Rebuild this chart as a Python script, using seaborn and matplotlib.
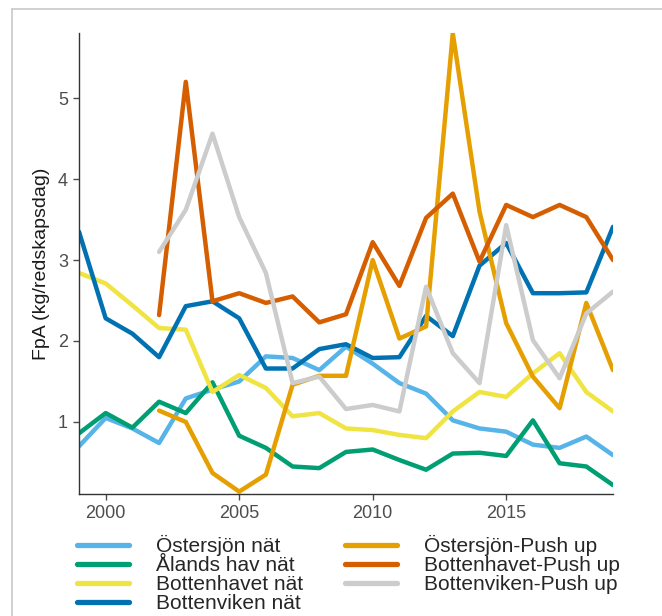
import pandas as pd
import numpy as np
import matplotlib
matplotlib.use("Agg")
import matplotlib.pyplot as plt
from matplotlib.lines import Line2D
import seaborn as sns

# Data
years = list(range(1999, 2020))
years_push = list(range(2002, 2020))

ostersjon_nat = [0.70, 1.05, 0.92, 0.74, 1.29, 1.40, 1.50, 1.81, 1.79, 1.64, 1.93,
                 1.72, 1.48, 1.35, 1.02, 0.92, 0.88, 0.72, 0.68, 0.82, 0.59]
alands_hav_nat = [0.86, 1.11, 0.93, 1.25, 1.11, 1.49, 0.83, 0.68, 0.45, 0.43, 0.63,
                  0.66, 0.53, 0.41, 0.61, 0.62, 0.58, 1.02, 0.49, 0.45, 0.22]
bottenhavet_nat = [2.84, 2.71, 2.44, 2.16, 2.14, 1.37, 1.58, 1.42, 1.07, 1.11, 0.92,
                   0.90, 0.84, 0.80, 1.13, 1.37, 1.31, 1.60, 1.85, 1.37, 1.13]
bottenviken_nat = [3.35, 2.28, 2.09, 1.80, 2.43, 2.49, 2.28, 1.66, 1.66, 1.90, 1.96,
                   1.79, 1.80, 2.31, 2.06, 2.93, 3.21, 2.59, 2.59, 2.60, 3.41]

ostersjon_push = [1.14, 1.00, 0.37, 0.14, 0.35, 1.46, 1.57, 1.57, 3.00, 2.03,
                  2.18, 5.80, 3.60, 2.22, 1.56, 1.17, 2.47, 1.64]
bottenhavet_push = [2.32, 5.20, 2.49, 2.59, 2.47, 2.55, 2.23, 2.33, 3.22, 2.68,
                    3.52, 3.82, 2.98, 3.68, 3.53, 3.68, 3.53, 3.00]
bottenviken_push = [3.10, 3.62, 4.56, 3.53, 2.84, 1.48, 1.56, 1.16, 1.21, 1.13,
                    2.67, 1.85, 1.48, 3.43, 2.01, 1.54, 2.34, 2.61]

series = {
    "Östersjön nät": (years, ostersjon_nat),
    "Ålands hav nät": (years, alands_hav_nat),
    "Bottenhavet nät": (years, bottenhavet_nat),
    "Bottenviken nät": (years, bottenviken_nat),
    "Östersjön-Push up": (years_push, ostersjon_push),
    "Bottenhavet-Push up": (years_push, bottenhavet_push),
    "Bottenviken-Push up": (years_push, bottenviken_push),
}
colors = ["#56B4E9", "#009E73", "#F0E442", "#0072B2", "#E69F00", "#D55E00", "#CCCCCC"]

df = pd.concat([pd.DataFrame({"year": x, "fpa": y, "serie": name})
                for name, (x, y) in series.items()], ignore_index=True)
order = list(series.keys())
palette = dict(zip(order, colors))

sns.set_style("white")
plt.rcParams["font.family"] = ["Liberation Sans", "DejaVu Sans"]

fig = plt.figure(figsize=(6.62, 6.16), dpi=100)
ax = fig.add_axes([0.1193, 0.198, 0.8067, 0.748])

sns.lineplot(data=df, x="year", y="fpa", hue="serie", hue_order=order,
             palette=palette, linewidth=3.2, ax=ax, legend=False)

ax.set_xlim(1999, 2019)
ax.set_ylim(0.11, 5.8)
ax.set_xticks([2000, 2005, 2010, 2015])
ax.set_yticks([1, 2, 3, 4, 5])
ax.set_xlabel("")
ax.set_ylabel("FpA (kg/redskapsdag)", fontsize=14, color="#1a1a1a", labelpad=6)
ax.tick_params(axis="both", labelsize=13, colors="#4d4d4d", length=4, width=1,
               pad=4, direction="out", bottom=True, left=True)
for side in ["top", "right"]:
    ax.spines[side].set_visible(False)
for side in ["left", "bottom"]:
    ax.spines[side].set_color("#333333")
    ax.spines[side].set_linewidth(1)

# Legend below the plot, two columns, rows tightly packed
handles = [Line2D([0], [0], color=c, lw=3.8) for c in colors]
fig.legend(handles, order, loc="upper left", bbox_to_anchor=(0.116, 0.131),
           ncol=2, frameon=False, fontsize=15, handlelength=2.5,
           handletextpad=1.3, columnspacing=2.0, labelspacing=0.0,
           borderpad=0, borderaxespad=0)

# thin frame around the image, as in the reference
fig.add_artist(Line2D([12 / 662, 12 / 662], [0, 1 - 9 / 616], color="#c8c8c8", lw=1.2,
                      transform=fig.transFigure))
fig.add_artist(Line2D([12 / 662, 1], [1 - 9 / 616, 1 - 9 / 616], color="#c8c8c8", lw=1.2,
                      transform=fig.transFigure))

fig.savefig("out.png", dpi=100)
